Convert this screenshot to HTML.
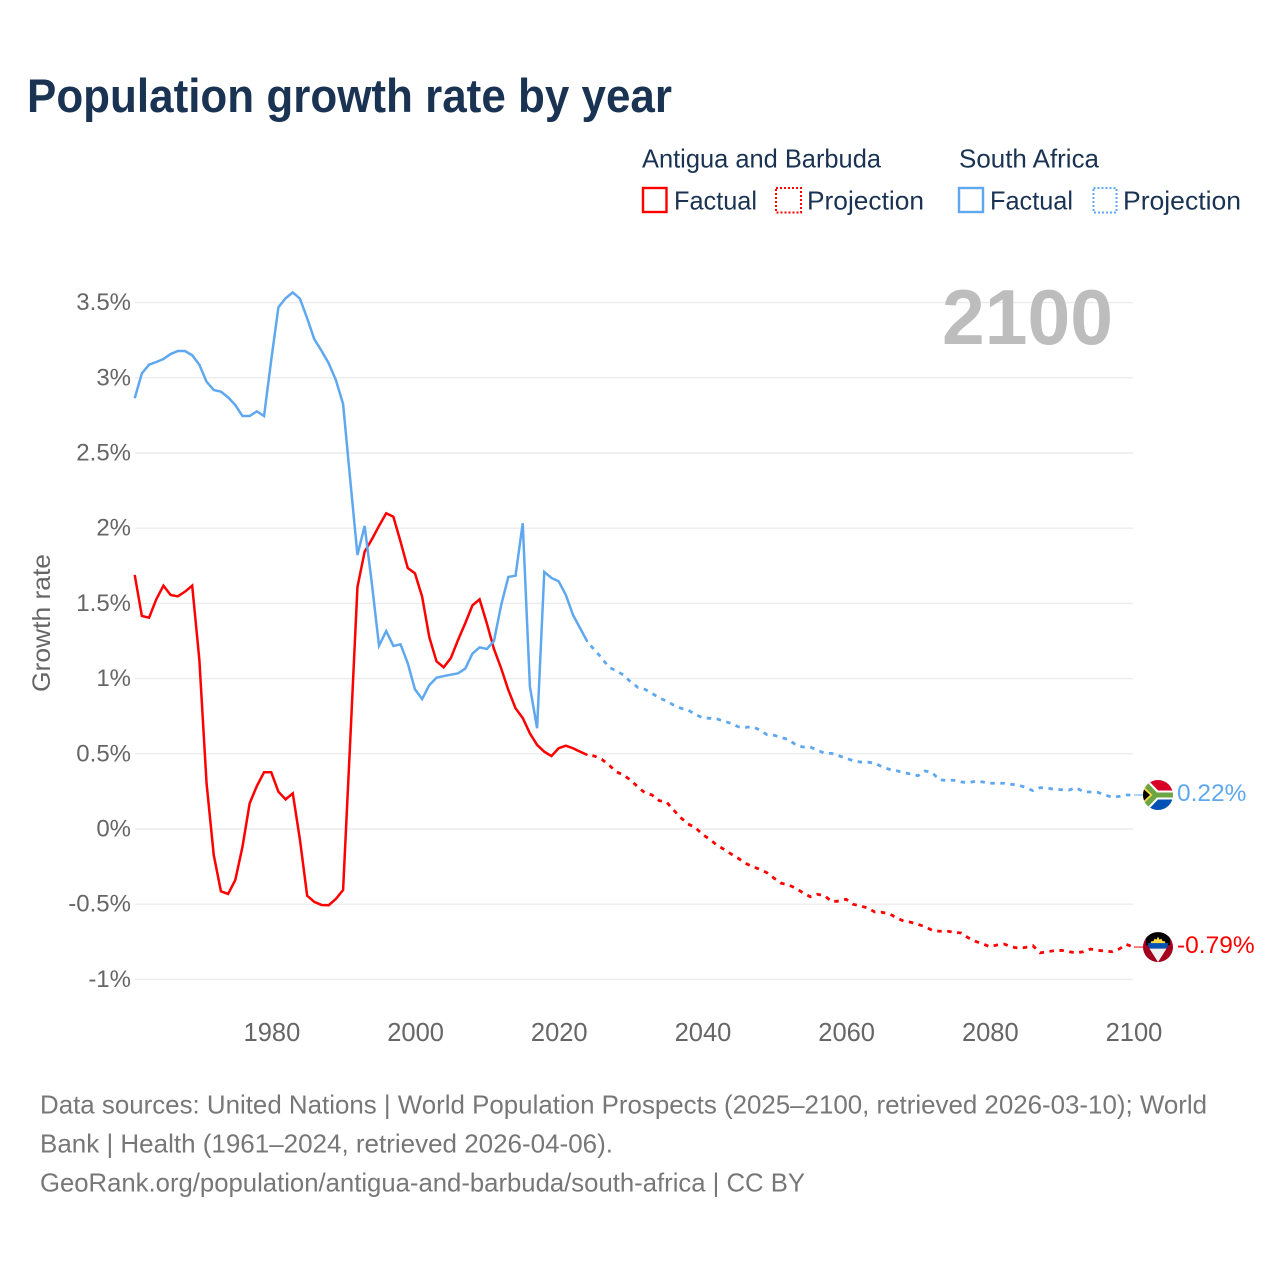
<!DOCTYPE html>
<html lang="en">
<head>
<meta charset="utf-8">
<title>Population growth rate by year</title>
<style>
html,body{margin:0;padding:0;background:#fff;}
svg{display:block;font-family:"Liberation Sans",sans-serif;}
</style>
</head>
<body>
<svg id="chart" width="1280" height="1280" viewBox="0 0 1280 1280" xmlns="http://www.w3.org/2000/svg">
  <defs>
    <clipPath id="flag-clip-za"><circle cx="15" cy="15" r="15"/></clipPath>
    <clipPath id="flag-clip-ag"><circle cx="15" cy="15" r="15"/></clipPath>
  </defs>
  <rect width="1280" height="1280" fill="#fff"/>
  <text x="27" y="112" font-size="47" font-weight="700" fill="#1a3353" textLength="645" lengthAdjust="spacingAndGlyphs">Population growth rate by year</text>

  <g font-size="26" fill="#1a3353">
    <text x="642" y="167.5" textLength="239" lengthAdjust="spacingAndGlyphs">Antigua and Barbuda</text>
    <text x="959" y="167.5" textLength="140" lengthAdjust="spacingAndGlyphs">South Africa</text>
    <g>
      <rect x="643" y="188" width="23.500" height="24" fill="none" stroke="#ff0000" stroke-width="2.4"/>
      <text x="674" y="209.500" textLength="83" lengthAdjust="spacingAndGlyphs">Factual</text>
    </g>
    <g>
      <rect x="776" y="188" width="25" height="24.500" fill="none" stroke="#ff0000" stroke-width="2" stroke-dasharray="2 2"/>
      <text x="807" y="209.500" textLength="117" lengthAdjust="spacingAndGlyphs">Projection</text>
    </g>
    <g>
      <rect x="959" y="188" width="24" height="24" fill="none" stroke="#5fa8f0" stroke-width="2.4"/>
      <text x="990" y="209.500" textLength="83" lengthAdjust="spacingAndGlyphs">Factual</text>
    </g>
    <g>
      <rect x="1093.500" y="188" width="23" height="24.500" fill="none" stroke="#5fa8f0" stroke-width="2" stroke-dasharray="2 2"/>
      <text x="1123" y="209.500" textLength="118" lengthAdjust="spacingAndGlyphs">Projection</text>
    </g>
  </g>

  <g id="grid"></g>
  <g id="y-ticks"></g>
  <g id="x-ticks"></g>

  <text transform="translate(50,692) rotate(-90)" font-size="25" fill="#666" textLength="138" lengthAdjust="spacingAndGlyphs">Growth rate</text>
  <text x="942" y="344" font-size="78" font-weight="700" fill="#bdbdbd" textLength="171" lengthAdjust="spacingAndGlyphs">2100</text>

  <g id="series"></g>
  <g id="end-labels"></g>

  <g font-size="26" fill="#777">
    <text x="40" y="1113.500" textLength="1167" lengthAdjust="spacingAndGlyphs">Data sources: United Nations | World Population Prospects (2025–2100, retrieved 2026-03-10); World</text>
    <text x="40" y="1152.500" textLength="573" lengthAdjust="spacingAndGlyphs">Bank | Health (1961–2024, retrieved 2026-04-06).</text>
    <text x="40" y="1191.500" textLength="765" lengthAdjust="spacingAndGlyphs">GeoRank.org/population/antigua-and-barbuda/south-africa | CC BY</text>
  </g>
</svg>

<script>
const yTickValues = [-1, -0.5, 0, 0.5, 1, 1.5, 2, 2.5, 3, 3.5];
const yTickLabels = ["-1%", "-0.5%", "0%", "0.5%", "1%", "1.5%", "2%", "2.5%", "3%", "3.5%"];
const xTickValues = [1980, 2000, 2020, 2040, 2060, 2080, 2100];
const xTickLabels = ["1980", "2000", "2020", "2040", "2060", "2080", "2100"];

const factualYears = [1961,1962,1963,1964,1965,1966,1967,1968,1969,1970,1971,1972,1973,1974,1975,1976,1977,1978,1979,1980,1981,1982,1983,1984,1985,1986,1987,1988,1989,1990,1991,1992,1993,1994,1995,1996,1997,1998,1999,2000,2001,2002,2003,2004,2005,2006,2007,2008,2009,2010,2011,2012,2013,2014,2015,2016,2017,2018,2019,2020,2021,2022,2023,2024];
const projectionYears = [2024,2025,2026,2027,2028,2029,2030,2031,2032,2033,2034,2035,2036,2037,2038,2039,2040,2041,2042,2043,2044,2045,2046,2047,2048,2049,2050,2051,2052,2053,2054,2055,2056,2057,2058,2059,2060,2061,2062,2063,2064,2065,2066,2067,2068,2069,2070,2071,2072,2073,2074,2075,2076,2077,2078,2079,2080,2081,2082,2083,2084,2085,2086,2087,2088,2089,2090,2091,2092,2093,2094,2095,2096,2097,2098,2099,2100];

const antiguaFactual = [1.689,1.416,1.405,1.527,1.618,1.556,1.547,1.578,1.618,1.124,0.304,-0.173,-0.414,-0.432,-0.339,-0.118,0.171,0.286,0.377,0.377,0.248,0.197,0.237,-0.073,-0.443,-0.485,-0.505,-0.507,-0.465,-0.406,0.592,1.609,1.844,1.926,2.015,2.099,2.076,1.910,1.735,1.700,1.545,1.275,1.115,1.075,1.137,1.257,1.368,1.487,1.527,1.368,1.197,1.068,0.924,0.803,0.738,0.636,0.559,0.514,0.485,0.537,0.554,0.537,0.514,0.492];
const antiguaProjection = [0.492,0.485,0.463,0.426,0.381,0.359,0.326,0.281,0.241,0.226,0.188,0.180,0.126,0.075,0.033,0.011,-0.035,-0.068,-0.106,-0.135,-0.166,-0.195,-0.228,-0.251,-0.268,-0.291,-0.328,-0.361,-0.372,-0.394,-0.424,-0.450,-0.434,-0.443,-0.483,-0.479,-0.467,-0.501,-0.512,-0.525,-0.552,-0.554,-0.563,-0.590,-0.612,-0.620,-0.634,-0.650,-0.674,-0.680,-0.678,-0.687,-0.691,-0.723,-0.747,-0.763,-0.783,-0.771,-0.765,-0.783,-0.793,-0.787,-0.776,-0.824,-0.816,-0.809,-0.807,-0.816,-0.824,-0.816,-0.798,-0.807,-0.811,-0.816,-0.798,-0.767,-0.785];
const southAfricaFactual = [2.864,3.030,3.087,3.105,3.125,3.158,3.178,3.178,3.150,3.087,2.974,2.919,2.908,2.870,2.819,2.746,2.746,2.777,2.746,3.118,3.469,3.529,3.568,3.526,3.396,3.256,3.180,3.096,2.985,2.826,2.320,1.822,2.015,1.634,1.219,1.316,1.217,1.228,1.102,0.929,0.864,0.957,1.006,1.017,1.026,1.035,1.066,1.166,1.208,1.197,1.250,1.489,1.676,1.684,2.033,0.946,0.670,1.709,1.669,1.647,1.556,1.423,1.334,1.245];
const southAfricaProjection = [1.245,1.190,1.137,1.075,1.053,1.024,0.979,0.942,0.929,0.902,0.871,0.851,0.824,0.803,0.791,0.763,0.740,0.736,0.733,0.716,0.703,0.680,0.676,0.680,0.658,0.627,0.623,0.607,0.596,0.559,0.545,0.545,0.525,0.503,0.503,0.487,0.470,0.454,0.445,0.445,0.437,0.414,0.397,0.388,0.374,0.366,0.354,0.386,0.374,0.326,0.324,0.324,0.313,0.308,0.317,0.313,0.304,0.304,0.304,0.297,0.293,0.275,0.255,0.275,0.271,0.264,0.261,0.259,0.275,0.248,0.246,0.244,0.228,0.211,0.217,0.226,0.226];

const endLabelAntigua = "-0.79%";
const endLabelSouthAfrica = "0.22%";

const RED = "#ff0000";
const BLUE = "#5fa8f0";
const NS = "http://www.w3.org/2000/svg";

function xScale(year) { return 134.7 + (year - 1961) * (1133.5 - 134.7) / (2100 - 1961); }
function yScale(v) { return 829 - v * 150.4; }
function tickX(year) { return 135.4 + (year - 1961) * (1134 - 135.4) / (2100 - 1961); }

function svgEl(tag, parent) {
  const el = document.createElementNS(NS, tag);
  parent.appendChild(el);
  return el;
}
function linePath(years, values) {
  return values.map(function (v, i) {
    return (i ? "L" : "M") + xScale(years[i]).toFixed(2) + " " + yScale(v).toFixed(2);
  }).join(" ");
}

const gridGroup = document.getElementById("grid");
const yTickGroup = document.getElementById("y-ticks");
yTickValues.forEach(function (v, i) {
  const line = svgEl("line", gridGroup);
  
  
  line.setAttribute("x1", 135);
  line.setAttribute("x2", 1133);
  line.setAttribute("y1", yScale(v));
  line.setAttribute("y2", yScale(v));
  line.setAttribute("stroke", "#ececec");
  line.setAttribute("stroke-width", "1.4");

  const label = svgEl("text", yTickGroup);
  
  
  label.setAttribute("x", 131);
  label.setAttribute("y", yScale(v) + 7.5);
  label.setAttribute("text-anchor", "end");
  label.setAttribute("font-size", "24");
  label.setAttribute("fill", "#666");
  label.textContent = yTickLabels[i];
});

const xTickGroup = document.getElementById("x-ticks");
xTickValues.forEach(function (year, i) {
  const label = svgEl("text", xTickGroup);
  
  
  label.setAttribute("x", tickX(year));
  label.setAttribute("y", 1041);
  label.setAttribute("text-anchor", "middle");
  label.setAttribute("font-size", "25.5");
  label.setAttribute("fill", "#666");
  label.textContent = xTickLabels[i];
});

const seriesGroup = document.getElementById("series");
function drawLine(name, years, values, color, dashed) {
  const path = svgEl("path", seriesGroup);
  
  
  path.setAttribute("d", linePath(years, values));
  path.setAttribute("fill", "none");
  path.setAttribute("stroke", color);
  path.setAttribute("stroke-width", dashed ? "2.8" : "2.5");
  if (dashed) {
    path.setAttribute("stroke-dasharray", "4.5 5.5");
    path.setAttribute("stroke-dashoffset", "5");
  }
}
drawLine("antigua-factual-line", factualYears, antiguaFactual, RED, false);
drawLine("antigua-projection-line", projectionYears, antiguaProjection, RED, true);
drawLine("south-africa-factual-line", factualYears, southAfricaFactual, BLUE, false);
drawLine("south-africa-projection-line", projectionYears, southAfricaProjection, BLUE, true);

const endGroup = document.getElementById("end-labels");
function drawEnd(name, lastValue, color, label, flagMarkup) {
  const y = yScale(lastValue);
  const connector = svgEl("line", endGroup);
  
  
  connector.setAttribute("x1", 1134);
  connector.setAttribute("x2", 1143);
  connector.setAttribute("y1", y);
  connector.setAttribute("y2", y);
  connector.setAttribute("stroke", color);
  connector.setAttribute("stroke-width", "1");

  const flag = svgEl("g", endGroup);
  
  
  flag.setAttribute("transform", "translate(1143," + (y - 15) + ")");
  flag.innerHTML = flagMarkup;

  const text = svgEl("text", endGroup);
  
  
  text.setAttribute("x", 1177);
  text.setAttribute("y", y + 6);
  text.setAttribute("font-size", "24.5");
  text.setAttribute("fill", color);
  text.textContent = label;
}

const flagSouthAfrica =
  '<g clip-path="url(#flag-clip-za)">' +
  '<rect width="30" height="15" fill="#d80027"/>' +
  '<rect y="15" width="30" height="15" fill="#0052b4"/>' +
  '<path d="M0 0 L5 0 L15 10.500 L30 10.500 L30 19.500 L15 19.500 L5 30 L0 30 Z" fill="#fff"/>' +
  '<path d="M0 2 L4 2 L14 12.500 L30 12.500 L30 17.500 L14 17.500 L4 28 L0 28 Z" fill="#6da544"/>' +
  '<path d="M0 6 L9.500 15 L0 24 Z" fill="#ffda44"/>' +
  '<path d="M0 8.500 L7 15 L0 21.500 Z" fill="#000"/>' +
  '</g>';

const flagAntigua =
  '<g clip-path="url(#flag-clip-ag)">' +
  '<rect width="30" height="30" fill="#a2001d"/>' +
  '<path d="M3 0 L27 0 L27 13 L15 13 L3 13 Z" fill="#000"/>' +
  '<path d="M7 12 L8.500 9 L10.500 9 L11.500 6.500 L13.500 7.500 L15 4.500 L16.500 7.500 L18.500 6.500 L19.500 9 L21.500 9 L23 12 Z" fill="#ffda44"/>' +
  '<path d="M4.500 11 L25.500 11 L23.500 16.500 L6.500 16.500 Z" fill="#0052b4"/>' +
  '<path d="M6.500 16.500 L23.500 16.500 L15 30 Z" fill="#f0f0f0"/>' +
  '</g>';

drawEnd("antigua-end", antiguaProjection[antiguaProjection.length - 1], RED, endLabelAntigua, flagAntigua);
drawEnd("south-africa-end", southAfricaProjection[southAfricaProjection.length - 1], BLUE, endLabelSouthAfrica, flagSouthAfrica);
</script>
</body>
</html>
